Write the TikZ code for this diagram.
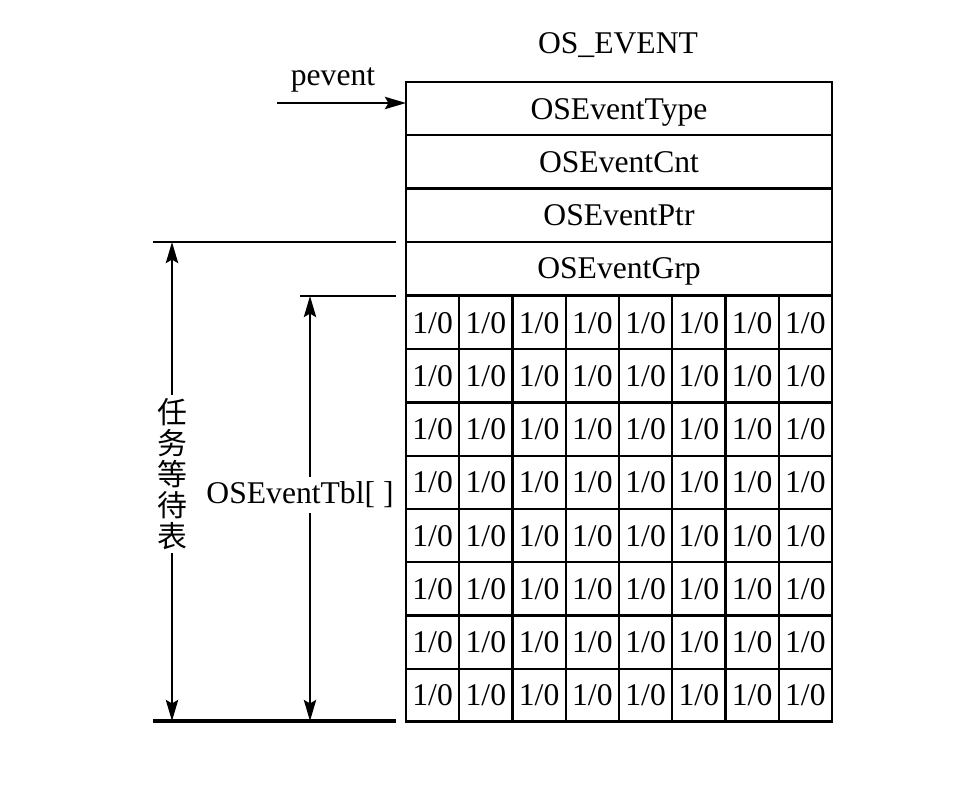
\documentclass[tikz,border=0pt]{standalone}
\usepackage{fontspec}
\setmainfont{Liberation Serif}
\newfontfamily\cjk{Noto Sans CJK SC}
\usetikzlibrary{arrows.meta}

\begin{document}
\begin{tikzpicture}[x=0.02cm, y=-0.02cm,
		font=\fontsize{18}{21}\selectfont,
		field/.style={draw, line width=1.3pt, inner sep=0pt, text height=12pt, text depth=0pt, minimum width=8.52cm, minimum height=1.065cm},
		bit/.style={draw, line width=1.3pt, inner sep=0pt, text height=12pt, text depth=0pt, minimum width=1.065cm, minimum height=1.065cm},
		tip/.style={-{Stealth[length=12pt, width=7pt, inset=2pt]}, line width=1.2pt}]
	\useasboundingbox (0, 0) rectangle (958, 805);

	% event control block
	\node (title) at (618, 45) {OS\_EVENT};
	\node[field] (type) at (619, 108.6) {OSEventType};
	\node[field] (cnt) at (619, 161.9) {OSEventCnt};
	\node[field] (ptr) at (619, 215.1) {OSEventPtr};
	\node[field] (grp) at (619, 268.4) {OSEventGrp};
	\foreach \r in {0,...,7}
		\foreach \c in {0,...,7}
			\node[bit] (b\r\c) at (432.6+53.25*\c, 322.6+53.25*\r) {1/0};
	\draw[line width=1.6pt] (406, 82) rectangle (832, 721);

	% pointer
	\coordinate (pstart) at (277, 103);
	\coordinate (pend) at (406, 103);
	\node (pevent) at (333, 80) {pevent};
	\draw[tip] (pstart) -- (pend);

	% extents
	\coordinate (l1) at (153, 242);
	\coordinate (r1) at (396, 242);
	\coordinate (l2) at (300, 296);
	\coordinate (r2) at (396, 296);
	\coordinate (l3) at (153, 721);
	\coordinate (r3) at (396, 721);
	\draw[line width=1.3pt] (l1) -- (r1);
	\draw[line width=1.3pt] (l2) -- (r2);
	\draw[line width=2.2pt] (l3) -- (r3);

	\coordinate (wt) at (172, 242);
	\coordinate (wb) at (172, 721);
	\coordinate (tt) at (310, 296);
	\coordinate (tb) at (310, 721);
	\draw[tip] (wt |- 400, 481) -- (wt);
	\draw[tip] (wt |- 400, 481) -- (wb);
	\draw[tip] (tt |- 400, 493) -- (tt);
	\draw[tip] (tt |- 400, 493) -- (tb);
	\node[fill=white, inner sep=2pt, align=center, font=\cjk\fontsize{17}{17.6}\selectfont] (waitlist) at (172, 474) {任\\务\\等\\待\\表};
	\node[fill=white, inner sep=3pt] (tbl) at (300, 495) {OSEventTbl[ ]};
\end{tikzpicture}
\end{document}
